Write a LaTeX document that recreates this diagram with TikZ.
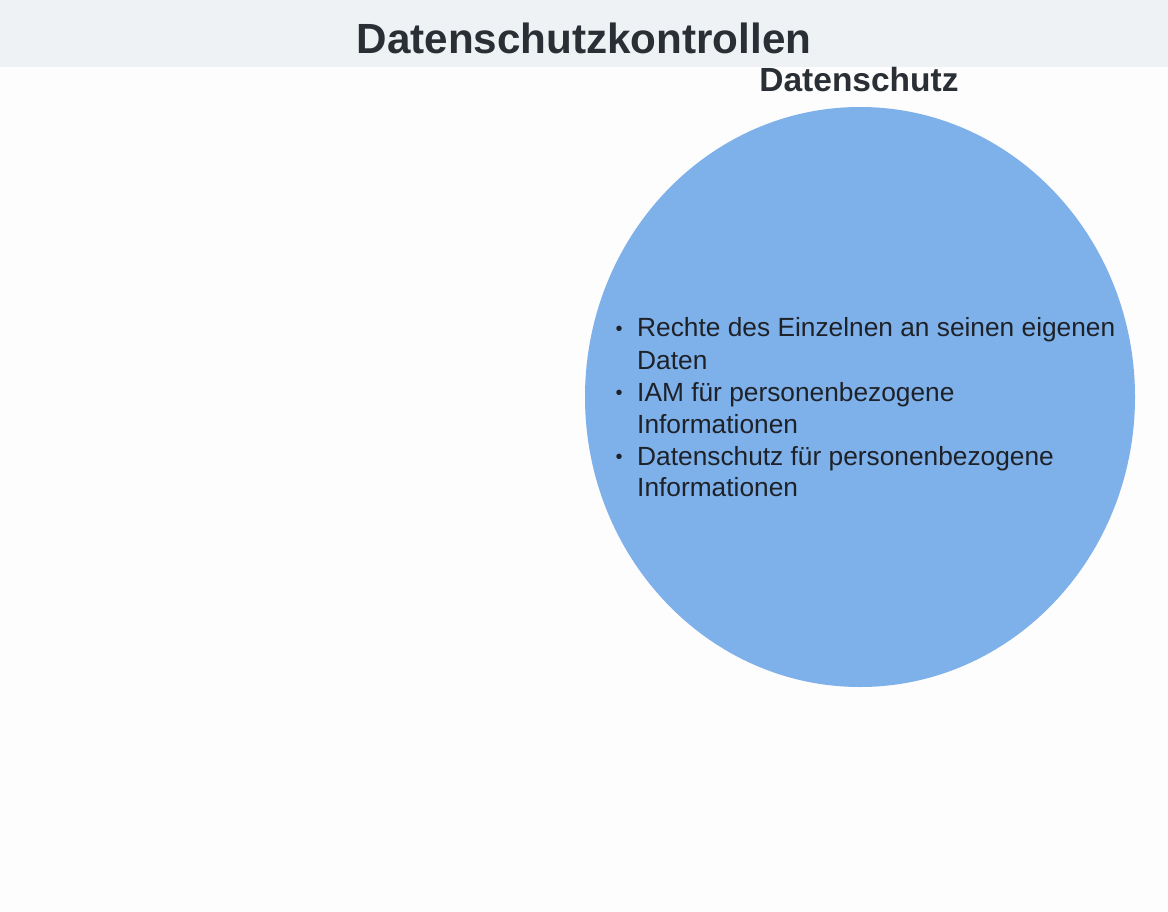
\documentclass[tikz,border=0pt]{standalone}
\usepackage{fontspec}
\setmainfont{Liberation Sans}
\definecolor{hdr}{HTML}{EEF2F5}
\definecolor{bg}{HTML}{FDFDFD}
\definecolor{circ}{HTML}{7EB0EA}
\definecolor{ink}{HTML}{1E2228}
\definecolor{tink}{HTML}{2A2E35}
\begin{document}
\begin{tikzpicture}[x=1pt,y=-1pt,
  item/.style={anchor=base west,inner sep=0pt,text=ink,font=\fontsize{26.3}{30}\selectfont},
  dot/.style={anchor=base,inner sep=0pt,text=ink,font=\fontsize{20}{24}\selectfont}]
\useasboundingbox (0,0) rectangle (1168,912);
\fill[bg] (0,0) rectangle (1168,912);
\fill[hdr] (0,0) rectangle (1168,67);
\node[anchor=base,inner sep=0pt,text=tink,font=\fontsize{42.2}{48}\selectfont\bfseries] (title) at (584,54) {Datenschutzkontrollen};
\node[anchor=base,inner sep=0pt,text=tink,font=\fontsize{33.5}{36}\selectfont\bfseries] (lab) at (859,92) {Datenschutz};
\fill[circ] (860,397) ellipse [x radius=275, y radius=290];
\coordinate (c) at (860,397);
\node[dot] (b1) at (619,335) {•};
\node[item] (l1) at (637,337) {Rechte des Einzelnen an seinen eigenen};
\node[item] (l2) at (637,369) {Daten};
\node[dot] (b2) at (619,399) {•};
\node[item] (l3) at (637,401) {IAM für personenbezogene};
\node[item] (l4) at (637,433) {Informationen};
\node[dot] (b3) at (619,463) {•};
\node[item] (l5) at (637,465) {Datenschutz für personenbezogene};
\node[item] (l6) at (637,496) {Informationen};
\end{tikzpicture}
\end{document}
